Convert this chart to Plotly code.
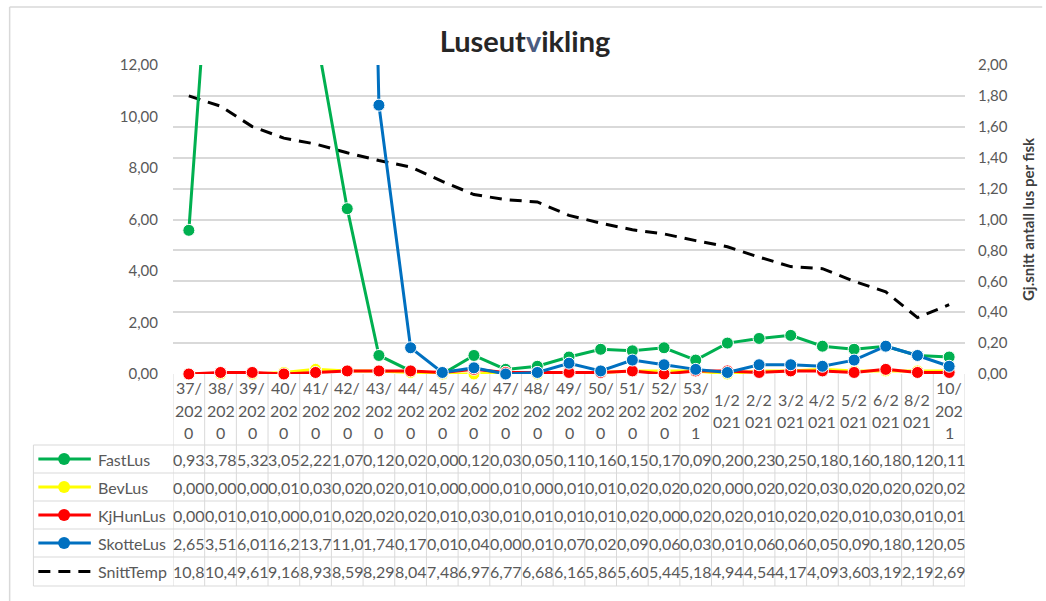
import plotly.graph_objects as go

# Weekly lice counts per fish and average sea temperature
weeks = ["37/2020", "38/2020", "39/2020", "40/2020", "41/2020", "42/2020", "43/2020",
         "44/2020", "45/2020", "46/2020", "47/2020", "48/2020", "49/2020", "50/2020",
         "51/2020", "52/2020", "53/2021", "1/2021", "2/2021", "3/2021", "4/2021",
         "5/2021", "6/2021", "8/2021", "10/2021"]

fast_lus = [0.93, 3.78, 5.32, 3.05, 2.22, 1.07, 0.12, 0.02, 0.00, 0.12, 0.03, 0.05, 0.11,
            0.16, 0.15, 0.17, 0.09, 0.20, 0.23, 0.25, 0.18, 0.16, 0.18, 0.12, 0.11]
bev_lus = [0.00, 0.00, 0.00, 0.01, 0.03, 0.02, 0.02, 0.01, 0.00, 0.00, 0.01, 0.00, 0.01,
           0.01, 0.02, 0.02, 0.02, 0.00, 0.02, 0.02, 0.03, 0.02, 0.02, 0.02, 0.02]
kjhun_lus = [0.00, 0.01, 0.01, 0.00, 0.01, 0.02, 0.02, 0.02, 0.01, 0.03, 0.01, 0.01, 0.01,
             0.01, 0.02, 0.00, 0.02, 0.02, 0.01, 0.02, 0.02, 0.01, 0.03, 0.01, 0.01]
skotte_lus = [2.65, 3.51, 6.01, 16.2, 13.7, 11.0, 1.74, 0.17, 0.01, 0.04, 0.00, 0.01, 0.07,
              0.02, 0.09, 0.06, 0.03, 0.01, 0.06, 0.06, 0.05, 0.09, 0.18, 0.12, 0.05]
snitt_temp = [10.8, 10.4, 9.61, 9.16, 8.93, 8.59, 8.29, 8.04, 7.48, 6.97, 6.77, 6.68, 6.16,
              5.86, 5.60, 5.44, 5.18, 4.94, 4.54, 4.17, 4.09, 3.60, 3.19, 2.19, 2.69]

left_ticks = [0, 2, 4, 6, 8, 10, 12]
right_ticks = [0, 0.2, 0.4, 0.6, 0.8, 1.0, 1.2, 1.4, 1.6, 1.8, 2.0]

lice_series = [
    ("FastLus", fast_lus, "#00B050"),
    ("BevLus", bev_lus, "#FFFF00"),
    ("KjHunLus", kjhun_lus, "#FF0000"),
    ("SkotteLus", skotte_lus, "#0070C0"),
]

W, H = 1046, 601
PL, PR, PT, PB = 173, 973, 65, 374  # plot area in pixels
FONT = "Lato, Open Sans, sans-serif"
TXT = "#595959"
GRID = "#d9d9d9"
LICE_MAX = 2.0


def px(xp):
    return (xp - PL) / (PR - PL)


def py(yp):
    return (PB - yp) / (PB - PT)


idx = list(range(len(weeks)))
fig = go.Figure()

# Temperature on the left axis
fig.add_trace(go.Scatter(
    x=idx, y=snitt_temp, name="SnittTemp", mode="lines",
    line=dict(color="black", width=3, dash="12px,8px"),
    yaxis="y", hoverinfo="skip"))

# Lice counts on the right axis
for name, vals, color in lice_series:
    fig.add_trace(go.Scatter(
        x=idx, y=vals, name=name, mode="lines+markers",
        line=dict(color=color, width=3),
        marker=dict(color=color, opacity=1,
                    size=[12 if v <= LICE_MAX else 0 for v in vals]),
        cliponaxis=False, yaxis="y2", hoverinfo="skip"))

shapes = []
annotations = []

# chart frame (left and top edges)
shapes.append(dict(type="line", xref="paper", yref="paper", x0=px(8), x1=px(W + 5),
                   y0=py(7), y1=py(7), line=dict(color=GRID, width=1.5)))
shapes.append(dict(type="line", xref="paper", yref="paper", x0=px(8), x1=px(8),
                   y0=py(7), y1=py(H + 5), line=dict(color=GRID, width=1.5)))

# data table grid
row_edges = [445, 473, 501, 529, 557, 586]
for i in range(len(weeks) + 1):
    shapes.append(dict(type="line", xref="x", yref="paper", x0=i - 0.5, x1=i - 0.5,
                       y0=py(PB), y1=py(row_edges[-1]), line=dict(color=GRID, width=1)))
for r in row_edges:
    shapes.append(dict(type="line", xref="paper", yref="paper", x0=px(32), x1=px(PR),
                       y0=py(r), y1=py(r), line=dict(color=GRID, width=1)))
shapes.append(dict(type="line", xref="paper", yref="paper", x0=px(32), x1=px(32),
                   y0=py(row_edges[0]), y1=py(row_edges[-1]), line=dict(color=GRID, width=1)))

# category labels, wrapped three characters per line
for i, w in enumerate(weeks):
    parts = [w[k:k + 3] for k in range(0, len(w), 3)]
    start = 410 - (len(parts) - 1) * 11
    for j, p in enumerate(parts):
        annotations.append(dict(x=i, y=py(start + 22 * j), xref="x", yref="paper",
                                text=p, showarrow=False, xanchor="center", yanchor="middle",
                                font=dict(family=FONT, size=16, color=TXT)))


def cell(v):
    return f"{v:.2f}".replace(".", ",")[:4]


table_rows = [(n, v, c) for n, v, c in lice_series] + [("SnittTemp", snitt_temp, "black")]
for r, (name, vals, color) in enumerate(table_rows):
    yc = (row_edges[r] + row_edges[r + 1]) / 2
    # legend key
    if name == "SnittTemp":
        shapes.append(dict(type="line", xref="paper", yref="paper", x0=px(37), x1=px(90),
                           y0=py(yc), y1=py(yc),
                           line=dict(color="black", width=3, dash="12px,8px")))
    else:
        shapes.append(dict(type="line", xref="paper", yref="paper", x0=px(37), x1=px(90),
                           y0=py(yc), y1=py(yc), line=dict(color=color, width=3)))
        shapes.append(dict(type="circle", xref="paper", yref="paper",
                           xsizemode="pixel", ysizemode="pixel",
                           xanchor=px(63), yanchor=py(yc), x0=-6, x1=6, y0=-6, y1=6,
                           fillcolor=color, line=dict(color=color, width=0)))
    annotations.append(dict(x=px(95), y=py(yc), xref="paper", yref="paper", text=name,
                            showarrow=False, xanchor="left", yanchor="middle",
                            font=dict(family=FONT, size=16, color=TXT)))
    for i, v in enumerate(vals):
        annotations.append(dict(x=i, y=py(yc), xref="x", yref="paper", text=cell(v),
                                showarrow=False, xanchor="center", yanchor="middle",
                                font=dict(family=FONT, size=16, color=TXT)))

fig.update_layout(
    width=W, height=H,
    margin=dict(l=PL, r=W - PR, t=PT, b=H - PB, pad=0),
    paper_bgcolor="white", plot_bgcolor="white",
    separators=", ",
    showlegend=False,
    title=dict(text="Luseut<span style='color:#4a5b80'>v</span>ikling",
               x=525 / W, xanchor="center", y=1 - 42 / H, yanchor="middle",
               font=dict(family=FONT, size=29, color="#262626", weight="bold")),
    xaxis=dict(range=[-0.5, len(weeks) - 0.5], showticklabels=False, showgrid=False,
               zeroline=False, showline=False, ticks=""),
    yaxis=dict(range=[0, 12], tickvals=left_ticks, tickformat=".2f", showgrid=False,
               zeroline=False, showline=False, ticks="", ticklabelstandoff=14,
               tickfont=dict(family=FONT, size=15, color=TXT)),
    yaxis2=dict(range=[0, LICE_MAX], tickvals=right_ticks, tickformat=".2f",
                overlaying="y", side="right", showgrid=True, gridcolor=GRID, gridwidth=1.5,
                zeroline=False, showline=False, ticks="", ticklabelstandoff=12,
                tickfont=dict(family=FONT, size=15, color=TXT),
                title=dict(text="Gj.snitt antall lus per fisk", standoff=16,
                           font=dict(family=FONT, size=15, color="#404040", weight="bold"))),
    shapes=shapes,
    annotations=annotations,
)

fig.write_html("out.html")
